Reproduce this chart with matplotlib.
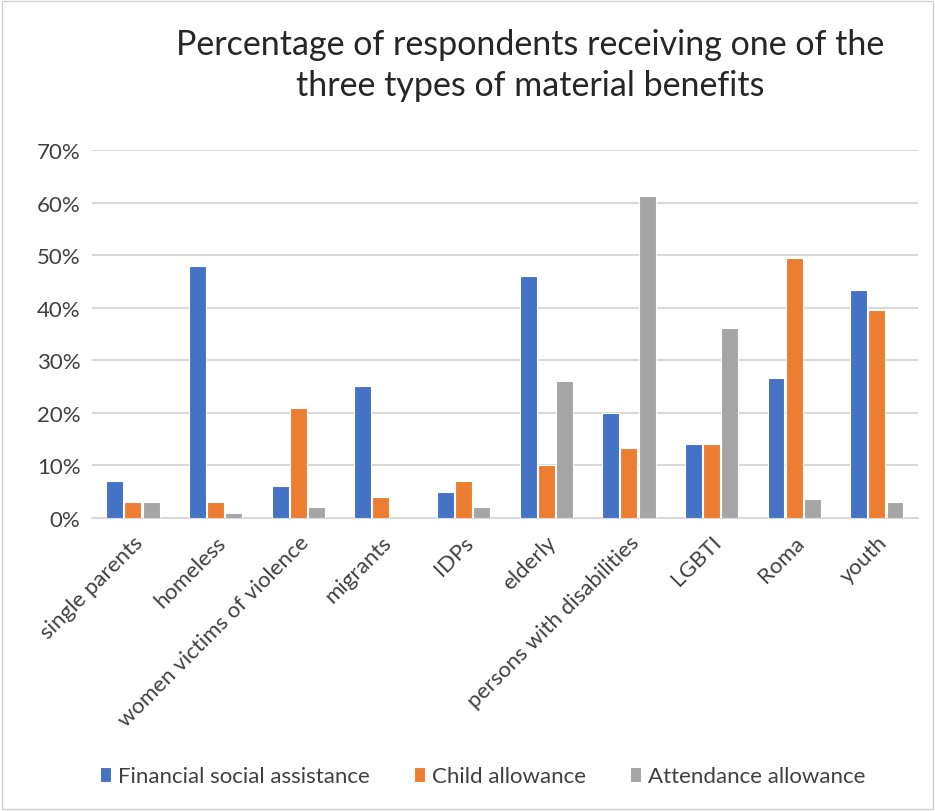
import numpy as np
import matplotlib
matplotlib.use("Agg")
import matplotlib.pyplot as plt
from matplotlib.ticker import PercentFormatter
from matplotlib.patches import Rectangle

plt.rcParams['font.family'] = ['Lato', 'DejaVu Sans']

# Data (percent)
categories = ['single parents', 'homeless', 'women victims of violence', 'migrants',
              'IDPs', 'elderly', 'persons with disabilities', 'LGBTI', 'Roma', 'youth']
financial = [7, 48, 6, 25, 5, 46, 20, 14, 26.6, 43.4]
child = [3, 3, 21, 4, 7, 10, 13.3, 14, 49.5, 39.5]
attendance = [3, 1, 2, 0, 2, 26, 61.2, 36.1, 3.6, 3.1]
series_names = ['Financial social assistance', 'Child allowance', 'Attendance allowance']
colors = ['#4472C4', '#ED7D31', '#A5A5A5']

fig = plt.figure(figsize=(9.35, 8.12), dpi=100)
ax = fig.add_axes([0.098, 0.361, 0.884, 0.453])

x = np.arange(len(categories))
step = 0.22
w = 0.205
for i, (vals, name, c) in enumerate(zip([financial, child, attendance], series_names, colors)):
    ax.bar(x + (i - 1) * step, vals, width=w, color=c, label=name,
           edgecolor='white', linewidth=0.8, zorder=3)

ax.set_xlim(-0.5, len(categories) - 0.5)
ax.set_ylim(0, 70)
ax.set_yticks(np.arange(0, 71, 10))
ax.yaxis.set_major_formatter(PercentFormatter(decimals=0))
ax.grid(axis='y', color='#d9d9d9', linewidth=1.5, zorder=0)
for s in ['top', 'right', 'left']:
    ax.spines[s].set_visible(False)
ax.spines['bottom'].set_color('#d9d9d9')
ax.spines['bottom'].set_linewidth(1.5)
ax.tick_params(axis='both', length=0, labelsize=16, colors='#404040')
ax.tick_params(axis='y', pad=8)
ax.tick_params(axis='x', pad=10)
ax.set_xticks(x)
ax.set_xticklabels(categories, rotation=45, ha='right', rotation_mode='anchor')

fig.text(0.567, 0.919, 'Percentage of respondents receiving one of the\nthree types of material benefits',
         ha='center', va='center', fontsize=24.5, color='#262626', linespacing=1.35)

fig.legend(loc='center', bbox_to_anchor=(0.516, 0.043), ncol=3, frameon=False,
           fontsize=16, handlelength=0.5, handleheight=0.7, handletextpad=0.3,
           columnspacing=2.0, labelcolor='#404040')

fig.add_artist(Rectangle((0.002, 0.002), 0.996, 0.996, transform=fig.transFigure,
                         fill=False, edgecolor='#d0d0d0', linewidth=1))

fig.savefig('out.png', dpi=100)
